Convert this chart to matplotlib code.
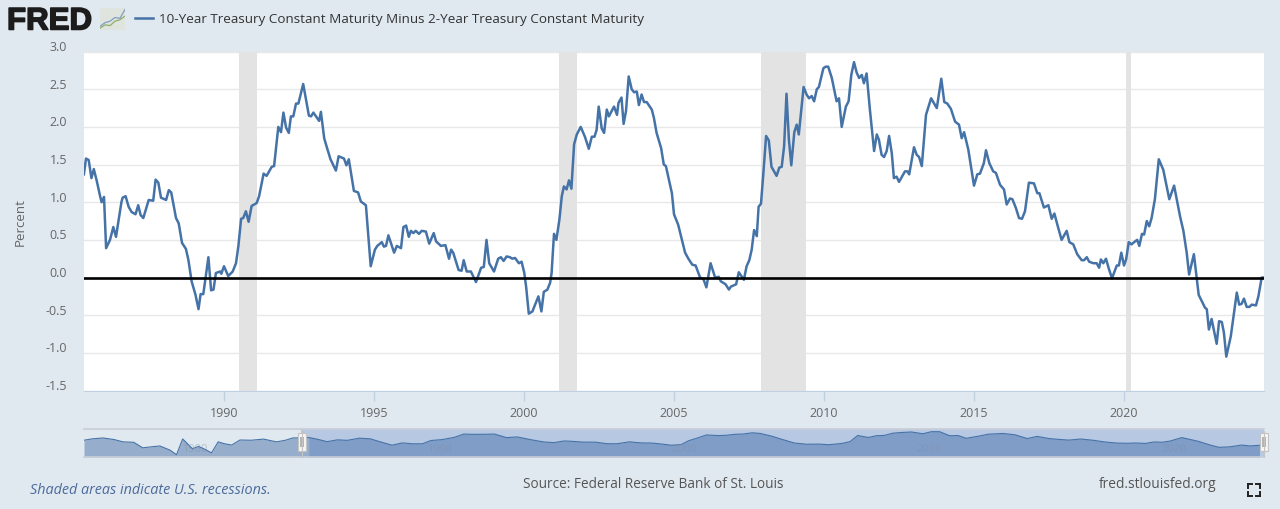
import numpy as np
import matplotlib
matplotlib.use('Agg')
import matplotlib.pyplot as plt
import matplotlib.patheffects as pe
from matplotlib.patches import Rectangle
from matplotlib.transforms import ScaledTranslation

plt.rcParams['font.family'] = ['Open Sans', 'DejaVu Sans']

# --- Data ---
years = [
    1985.33, 1985.40, 1985.49, 1985.58, 1985.66, 1985.76, 1985.87, 1985.92, 1986.00, 1986.07, 1986.20, 1986.31,
    1986.40, 1986.58, 1986.62, 1986.72, 1986.82, 1986.92, 1987.05, 1987.14, 1987.22, 1987.31, 1987.49, 1987.64,
    1987.72, 1987.81, 1987.90, 1988.07, 1988.16, 1988.24, 1988.40, 1988.49, 1988.60, 1988.73, 1988.81, 1988.92,
    1989.05, 1989.15, 1989.22, 1989.31, 1989.48, 1989.57, 1989.65, 1989.73, 1989.87, 1989.91, 1990.00, 1990.14,
    1990.29, 1990.40, 1990.48, 1990.57, 1990.64, 1990.73, 1990.82, 1990.92, 1991.09, 1991.17, 1991.32, 1991.42,
    1991.59, 1991.67, 1991.81, 1991.90, 1991.98, 1992.07, 1992.16, 1992.23, 1992.31, 1992.40, 1992.48, 1992.64,
    1992.83, 1992.90, 1992.98, 1993.17, 1993.23, 1993.34, 1993.42, 1993.55, 1993.73, 1993.82, 1994.00, 1994.08,
    1994.16, 1994.33, 1994.47, 1994.56, 1994.73, 1994.89, 1995.03, 1995.11, 1995.26, 1995.33, 1995.40, 1995.48,
    1995.67, 1995.76, 1995.90, 1995.98, 1996.07, 1996.16, 1996.23, 1996.31, 1996.39, 1996.50, 1996.59, 1996.73,
    1996.84, 1996.99, 1997.07, 1997.23, 1997.38, 1997.50, 1997.57, 1997.64, 1997.82, 1997.92, 1997.99, 1998.09,
    1998.23, 1998.40, 1998.57, 1998.66, 1998.75, 1998.84, 1999.00, 1999.14, 1999.23, 1999.32, 1999.42, 1999.53,
    1999.61, 1999.70, 1999.83, 1999.92, 2000.01, 2000.07, 2000.16, 2000.28, 2000.48, 2000.58, 2000.66, 2000.78,
    2000.87, 2000.92, 2001.00, 2001.08, 2001.18, 2001.26, 2001.33, 2001.42, 2001.50, 2001.58, 2001.67, 2001.76,
    2001.89, 2002.03, 2002.16, 2002.26, 2002.35, 2002.42, 2002.49, 2002.59, 2002.67, 2002.76, 2002.83, 2003.00,
    2003.10, 2003.15, 2003.25, 2003.32, 2003.40, 2003.49, 2003.59, 2003.67, 2003.76, 2003.83, 2003.92, 2004.00,
    2004.09, 2004.26, 2004.33, 2004.42, 2004.57, 2004.66, 2004.73, 2004.84, 2004.93, 2005.00, 2005.14, 2005.37,
    2005.48, 2005.61, 2005.72, 2005.87, 2005.98, 2006.08, 2006.22, 2006.37, 2006.49, 2006.56, 2006.72, 2006.83,
    2006.90, 2007.07, 2007.16, 2007.33, 2007.42, 2007.51, 2007.59, 2007.67, 2007.76, 2007.82, 2007.90, 2007.98,
    2008.07, 2008.16, 2008.25, 2008.42, 2008.51, 2008.59, 2008.67, 2008.75, 2008.83, 2008.91, 2009.01, 2009.09,
    2009.16, 2009.26, 2009.32, 2009.42, 2009.50, 2009.59, 2009.67, 2009.76, 2009.83, 2009.98, 2010.06, 2010.14,
    2010.26, 2010.42, 2010.50, 2010.59, 2010.73, 2010.82, 2010.91, 2011.00, 2011.09, 2011.17, 2011.26, 2011.33,
    2011.42, 2011.53, 2011.67, 2011.76, 2011.83, 2011.92, 2012.00, 2012.09, 2012.17, 2012.26, 2012.33, 2012.42,
    2012.50, 2012.70, 2012.78, 2012.84, 2013.00, 2013.09, 2013.17, 2013.26, 2013.40, 2013.57, 2013.76, 2013.91,
    2014.01, 2014.11, 2014.23, 2014.37, 2014.50, 2014.59, 2014.67, 2014.81, 2015.00, 2015.11, 2015.20, 2015.33,
    2015.40, 2015.51, 2015.64, 2015.73, 2015.87, 2016.00, 2016.09, 2016.20, 2016.28, 2016.40, 2016.50, 2016.60,
    2016.70, 2016.83, 2017.00, 2017.11, 2017.18, 2017.33, 2017.48, 2017.59, 2017.68, 2017.78, 2017.92, 2018.09,
    2018.18, 2018.31, 2018.44, 2018.59, 2018.67, 2018.76, 2018.84, 2018.98, 2019.09, 2019.17, 2019.23, 2019.31,
    2019.40, 2019.50, 2019.60, 2019.76, 2019.83, 2019.91, 2020.00, 2020.07, 2020.16, 2020.25, 2020.37, 2020.44,
    2020.51, 2020.60, 2020.67, 2020.76, 2020.84, 2020.92, 2021.03, 2021.16, 2021.31, 2021.51, 2021.67, 2021.87,
    2021.98, 2022.09, 2022.17, 2022.33, 2022.49, 2022.59, 2022.70, 2022.76, 2022.83, 2022.92, 2023.09, 2023.17,
    2023.26, 2023.33, 2023.41, 2023.56, 2023.76, 2023.84, 2023.92, 2024.00, 2024.09, 2024.18, 2024.26, 2024.40,
    2024.48, 2024.59, 2024.65,
]
spread = [
    1.37, 1.58, 1.56, 1.32, 1.44, 1.28, 1.08, 1.00, 1.07, 0.39, 0.50, 0.67,
    0.54, 1.00, 1.06, 1.08, 0.94, 0.87, 0.84, 0.96, 0.83, 0.79, 1.03, 1.02,
    1.30, 1.26, 1.06, 1.03, 1.16, 1.13, 0.79, 0.72, 0.46, 0.38, 0.24, -0.05,
    -0.23, -0.42, -0.22, -0.22, 0.27, -0.17, -0.16, 0.06, 0.08, 0.05, 0.15, 0.02,
    0.08, 0.19, 0.42, 0.78, 0.79, 0.88, 0.74, 0.95, 0.99, 1.08, 1.38, 1.35,
    1.47, 1.48, 2.00, 1.93, 2.19, 1.99, 1.92, 2.14, 2.14, 2.31, 2.31, 2.57,
    2.15, 2.14, 2.19, 2.08, 2.20, 1.85, 1.74, 1.57, 1.42, 1.61, 1.58, 1.49,
    1.57, 1.15, 1.13, 1.01, 0.96, 0.15, 0.37, 0.42, 0.47, 0.41, 0.42, 0.56,
    0.33, 0.42, 0.39, 0.67, 0.69, 0.54, 0.62, 0.59, 0.62, 0.58, 0.62, 0.61,
    0.45, 0.59, 0.48, 0.42, 0.43, 0.25, 0.37, 0.33, 0.10, 0.09, 0.23, 0.08,
    0.08, -0.06, 0.13, 0.14, 0.50, 0.19, 0.08, 0.25, 0.27, 0.22, 0.28, 0.27,
    0.25, 0.26, 0.19, 0.21, 0.06, -0.12, -0.48, -0.45, -0.25, -0.45, -0.19, -0.16,
    -0.07, 0.06, 0.58, 0.50, 0.77, 1.08, 1.21, 1.17, 1.29, 1.18, 1.77, 1.90,
    2.00, 1.87, 1.71, 1.87, 1.87, 1.96, 2.27, 1.98, 1.92, 2.23, 2.14, 2.27,
    2.16, 2.32, 2.39, 2.04, 2.21, 2.67, 2.50, 2.46, 2.47, 2.29, 2.43, 2.33,
    2.33, 2.23, 2.12, 1.92, 1.72, 1.50, 1.48, 1.28, 1.12, 0.84, 0.70, 0.33,
    0.25, 0.17, 0.16, 0.00, -0.02, -0.13, 0.19, 0.00, 0.01, -0.05, -0.09, -0.16,
    -0.12, -0.09, 0.07, -0.03, 0.15, 0.23, 0.37, 0.63, 0.55, 0.94, 0.98, 1.39,
    1.88, 1.82, 1.47, 1.35, 1.46, 1.47, 1.74, 2.44, 1.83, 1.49, 1.93, 2.03,
    1.90, 2.30, 2.53, 2.43, 2.38, 2.41, 2.34, 2.50, 2.53, 2.78, 2.80, 2.80,
    2.65, 2.34, 2.38, 2.00, 2.27, 2.34, 2.69, 2.86, 2.72, 2.65, 2.69, 2.58,
    2.71, 2.23, 1.68, 1.90, 1.83, 1.63, 1.60, 1.68, 1.88, 1.65, 1.32, 1.34,
    1.27, 1.41, 1.41, 1.37, 1.73, 1.63, 1.60, 1.48, 2.16, 2.38, 2.25, 2.64,
    2.33, 2.31, 2.24, 2.07, 2.03, 1.85, 1.93, 1.70, 1.22, 1.37, 1.38, 1.52,
    1.69, 1.52, 1.41, 1.39, 1.23, 1.17, 0.97, 1.05, 1.04, 0.92, 0.79, 0.78,
    0.88, 1.26, 1.25, 1.12, 1.12, 0.93, 0.96, 0.78, 0.85, 0.70, 0.50, 0.62,
    0.47, 0.44, 0.31, 0.23, 0.23, 0.27, 0.21, 0.19, 0.19, 0.13, 0.24, 0.19,
    0.25, 0.11, -0.01, 0.16, 0.16, 0.33, 0.16, 0.24, 0.47, 0.44, 0.48, 0.50,
    0.42, 0.58, 0.57, 0.75, 0.68, 0.79, 1.04, 1.57, 1.43, 1.04, 1.22, 0.81,
    0.62, 0.33, 0.04, 0.31, -0.23, -0.31, -0.40, -0.42, -0.69, -0.55, -0.88, -0.58,
    -0.59, -0.73, -1.05, -0.78, -0.20, -0.36, -0.35, -0.28, -0.39, -0.39, -0.36, -0.37,
    -0.25, 0.00, 0.00,
]

# navigator shows the earlier years too
early_years = [1976.47, 1976.80, 1977.25, 1977.70, 1978.06, 1978.50, 1978.87, 1979.20, 1979.57, 1979.98,
               1980.25, 1980.50, 1980.90, 1981.15, 1981.40, 1981.68, 1981.95, 1982.20, 1982.50, 1982.84,
               1983.30, 1983.80, 1984.33, 1984.70, 1985.00]
early_spread = [0.85, 1.15, 1.35, 1.00, 0.50, 0.40, -0.80, -0.60, -0.40, -1.30,
                -2.30, 1.13, -1.00, -0.50, -1.10, -1.90, 0.50, 0.10, -0.20, 0.90,
                0.85, 1.10, 0.50, 0.85, 1.35]

recession_start = [1990.50, 2001.17, 2007.89, 2020.07]
recession_end = [1991.11, 2001.78, 2009.39, 2020.23]

y_ticks = [-1.5, -1.0, -0.5, 0.0, 0.5, 1.0, 1.5, 2.0, 2.5, 3.0]
x_ticks = [1990, 1995, 2000, 2005, 2010, 2015, 2020]
nav_labels = [1980, 1990, 2000, 2010, 2020]

BG = '#e1e9f0'
LINE = '#4572a7'
W, H = 1280, 510


def px_axes(fig, left, top, right, bottom):
    # axes from pixel edges, top-down like the screenshot
    return fig.add_axes([left / W, 1 - bottom / H, (right - left) / W, (bottom - top) / H])


def main():
    fig = plt.figure(figsize=(W / 100, H / 100), dpi=100, facecolor=BG)

    # --- main chart ---
    ax = px_axes(fig, 84, 52.6, 1264, 391.5)
    ax.set_xlim(1985.333, 2024.667)
    ax.set_ylim(-1.5, 3.0)
    ax.set_facecolor('white')
    ax.grid(axis='y', color='#e8e8e8', lw=1)
    ax.set_axisbelow(True)
    for a, b in zip(recession_start, recession_end):
        ax.axvspan(a, b, color='#e3e3e3', lw=0, zorder=1.5)
    ax.plot(years, spread, color=LINE, lw=1.8, zorder=3, solid_joinstyle='round')
    ax.axhline(0, color='black', lw=1.9, zorder=4)

    ax.set_xticks(x_ticks)
    ax.set_yticks(y_ticks)
    ax.set_yticklabels([f'{v:.1f}' for v in y_ticks])
    ax.tick_params(axis='x', length=7, width=1, color='#c0d0e0', labelsize=9, labelcolor='#666666', pad=4)
    ax.tick_params(axis='y', length=0, labelsize=9, labelcolor='#666666', pad=12)
    shift = ScaledTranslation(0, 6.5 / 100, fig.dpi_scale_trans)
    for lbl in ax.get_yticklabels():
        lbl.set_transform(lbl.get_transform() + shift)
    for name, sp in ax.spines.items():
        sp.set_visible(name == 'bottom')
    ax.spines['bottom'].set_color('#c0d0e0')
    fig.text(20.5 / W, 1 - 222 / H, 'Percent', rotation=90, ha='center', va='center', fontsize=9.6, color='#666666')

    # --- navigator ---
    nav = px_axes(fig, 84, 430, 1264, 458)
    nav.set_xlim(1976.47, 2024.667)
    nav.set_ylim(-2.8, 3.3)
    nav.set_facecolor(BG)
    # thin the points out, the overview line is smoother than the main one
    nav_x = np.array(early_years + years[::4])
    nav_y = np.array(early_spread + spread[::4])
    nav.axvspan(1985.333, 2024.667, color='#b7c8e2', lw=0, zorder=1)
    nav.fill_between(nav_x, nav_y, -2.8, color='#96adcc', lw=0, zorder=2)
    keep = nav_x >= 1985.333
    nav.fill_between(nav_x[keep], nav_y[keep], -2.8, color='#809dc7', lw=0, zorder=2.5)
    nav.plot(nav_x, nav_y, color=LINE, lw=0.8, zorder=3)
    for yr in nav_labels:
        nav.text(yr + 1.0, -1.0, str(yr), ha='center', va='center', fontsize=8, color='#7f8fa8', alpha=0.45, zorder=4)
    nav.set_xticks([])
    nav.set_yticks([])
    for name, sp in nav.spines.items():
        sp.set_visible(name in ('top', 'bottom'))
        sp.set_color('#c8ced6')
        sp.set_linewidth(1.2)

    # range handles
    for cx in (302, 1264):
        fig.add_artist(plt.Line2D([cx / W, cx / W], [1 - 432 / H, 1 - 458 / H], color='#c4c4c4', lw=0.8))
        fig.add_artist(Rectangle(((cx - 4) / W, 1 - 452 / H), 8 / W, 18 / H, transform=fig.transFigure,
                                 fc='#f4f4f4', ec='#c4c4c4', lw=0.8))
        fig.add_artist(Rectangle(((cx - 2) / W, 1 - 448 / H), 4 / W, 10 / H, transform=fig.transFigure,
                                 fc='#b5b5b5', ec='none'))

    # --- header: logo and legend ---
    logo = fig.text(7 / W, 1 - 30.5 / H, 'FRED', fontsize=22.5, fontweight='bold', family='Liberation Sans',
                    color='#1c1c1c', ha='left', va='baseline')
    logo.set_path_effects([pe.withStroke(linewidth=1.1, foreground='#1c1c1c')])
    icon = px_axes(fig, 100, 9, 125, 31)
    icon.add_patch(Rectangle((0, 0), 5, 6, fc='#e0e4de', ec='none', zorder=0))
    icon.plot([0, 1, 2, 3, 4, 5], [1, 2, 2.4, 3.4, 3.2, 5.6], color='#7f9fc0', lw=0.9)
    icon.plot([0, 1, 2, 3, 4, 5], [0.5, 1.4, 1.2, 2.4, 2.8, 3.8], color='#8fae6e', lw=0.9)
    icon.set_ylim(0, 6)
    icon.set_xlim(0, 5)
    icon.axis('off')
    fig.add_artist(plt.Line2D([135 / W, 153 / W], [1 - 19 / H, 1 - 19 / H], color=LINE, lw=1.8))
    fig.text(159 / W, 1 - 19 / H, '10-Year Treasury Constant Maturity Minus 2-Year Treasury Constant Maturity',
             fontsize=9.7, color='#333333', ha='left', va='center')

    # --- footer ---
    fig.text(30 / W, 1 - 491 / H, 'Shaded areas indicate U.S. recessions.', fontsize=10.4, style='italic',
             color='#4b6a9b', ha='left', va='center')
    fig.text(653 / W, 1 - 485 / H, 'Source: Federal Reserve Bank of St. Louis', fontsize=9.8, color='#555555',
             ha='center', va='center')
    fig.text(1157.5 / W, 1 - 485 / H, 'fred.stlouisfed.org', fontsize=9.9, color='#555555', ha='center', va='center')

    # fullscreen icon
    for sx, sy in ((-1, -1), (1, -1), (-1, 1), (1, 1)):
        cx, cy = 1254 + sx * 6, 491 + sy * 6
        fig.add_artist(plt.Line2D([cx / W, (cx - sx * 4) / W], [1 - cy / H, 1 - cy / H], color='#222222', lw=1.4))
        fig.add_artist(plt.Line2D([cx / W, cx / W], [1 - cy / H, 1 - (cy - sy * 4) / H], color='#222222', lw=1.4))

    fig.savefig('out.png', dpi=100, facecolor=BG)
    plt.close(fig)


if __name__ == "__main__":
    main()
